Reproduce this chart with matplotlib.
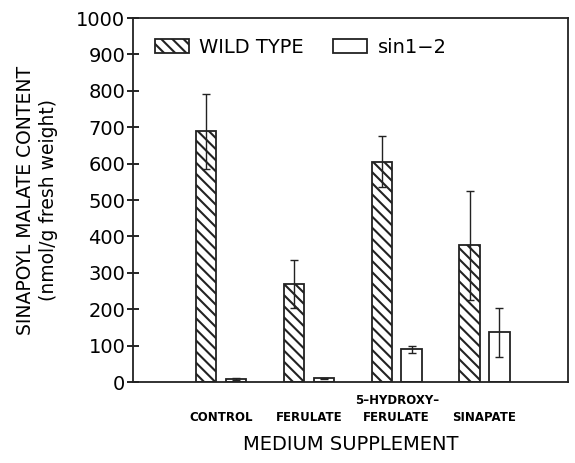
import numpy as np
import matplotlib
matplotlib.use('Agg')
import matplotlib.pyplot as plt

# data
supplements = ['CONTROL', 'FERULATE', '5\u2013HYDROXY\u2013\nFERULATE', 'SINAPATE']
wild_type = [689, 269, 605, 376]
wild_type_err = [103, 66, 70, 150]
sin1_2 = [8, 10, 90, 137]
sin1_2_err = [3, 2, 10, 67]

plt.rcParams['font.family'] = ['DejaVu Sans']
plt.rcParams['hatch.linewidth'] = 1.5

fig = plt.figure(figsize=(5.75, 4.63), dpi=100)
ax = fig.add_axes([133 / 575, 1 - 382 / 463, 435 / 575, 364 / 463])

x = np.arange(len(supplements))
w = 0.23
off = 0.17
ax.bar(x - off, wild_type, w, color='white', edgecolor='#222222', hatch='\\\\\\',
       lw=1.3, label='WILD TYPE')
ax.bar(x + off, sin1_2, w, color='white', edgecolor='#222222', lw=1.3, label='sin1\u22122')
ax.errorbar(x - off, wild_type, yerr=wild_type_err, fmt='none', ecolor='#222222',
            elinewidth=1.0, capsize=3, capthick=1.0)
ax.errorbar(x + off, sin1_2, yerr=sin1_2_err, fmt='none', ecolor='#222222',
            elinewidth=1.0, capsize=3, capthick=1.0)

ax.set_xlim(-1.0, 3.95)
ax.set_ylim(0, 1000)
ax.set_yticks(np.arange(0, 1001, 100))
ax.set_xticks(x)
ax.set_xticklabels(supplements, fontsize=8.5, fontweight='bold',
                   linespacing=1.4, va='bottom')
ax.tick_params(axis='x', length=0, pad=30)
ax.tick_params(axis='y', direction='inout', length=9, width=1.2, labelsize=14, pad=1)
for s in ax.spines.values():
    s.set_linewidth(1.3)
    s.set_color('#222222')

ax.set_ylabel('SINAPOYL MALATE CONTENT\n(nmol/g fresh weight)', fontsize=13.5,
              linespacing=1.3, labelpad=13)
ax.set_xlabel('MEDIUM SUPPLEMENT', fontsize=14, labelpad=8)

leg = ax.legend(loc='upper left', ncol=2, frameon=False, fontsize=14,
                handlelength=1.75, handleheight=0.75, columnspacing=1.5,
                bbox_to_anchor=(0.05, 0.945), borderpad=0, borderaxespad=0,
                handletextpad=0.55)

fig.savefig('out.png', dpi=100)
